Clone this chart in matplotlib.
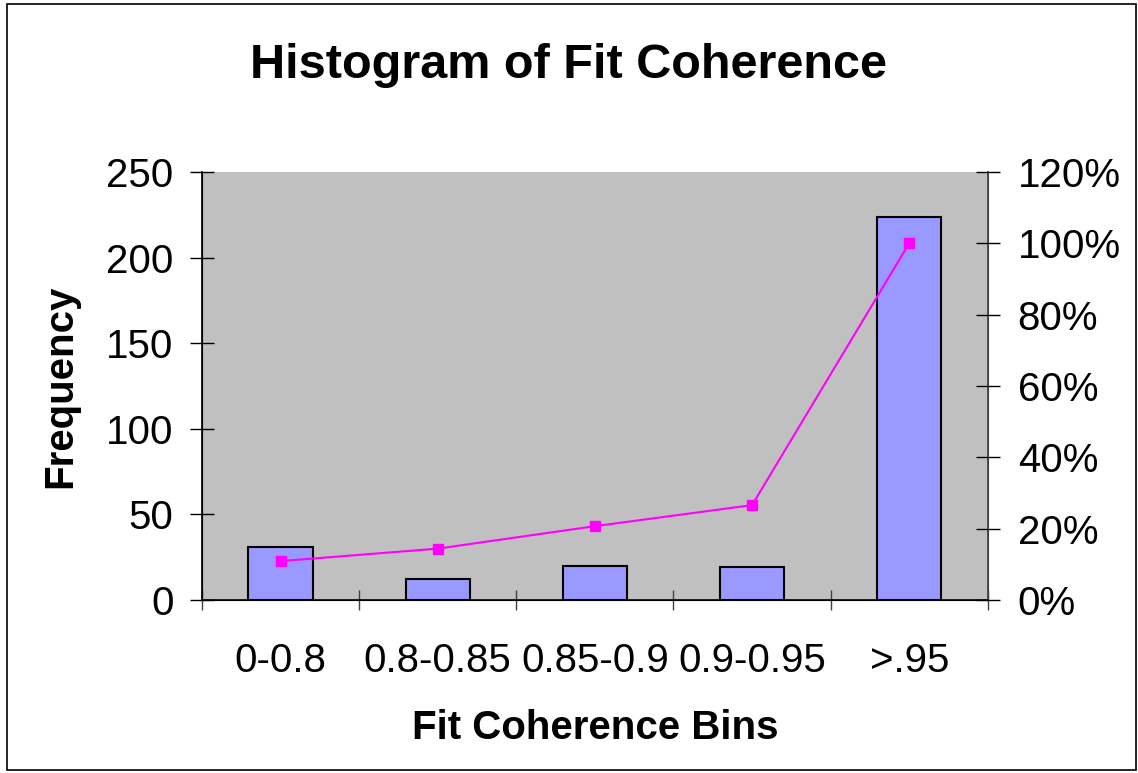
import numpy as np
import matplotlib.pyplot as plt
from matplotlib.patches import Rectangle

plt.rcParams['font.family'] = ['Liberation Sans', 'DejaVu Sans']

bins = ['0-0.8', '0.8-0.85', '0.85-0.9', '0.9-0.95', '>.95']
frequency = [31, 12, 20, 19, 224]
cumulative = [10.9, 14.4, 20.7, 26.6, 100.0]

fig = plt.figure(figsize=(11.38, 7.73), dpi=100)
fig.patches.append(Rectangle((0.006, 0.004), 0.992, 0.991, transform=fig.transFigure,
                             fill=False, edgecolor='black', linewidth=1.2))

ax = fig.add_axes([0.1775, 0.2238, 0.6905, 0.5537])
ax.set_facecolor('#C0C0C0')
x = np.arange(len(bins))
ax.bar(x, frequency, width=0.41, color='#9999FF', edgecolor='black', linewidth=1.5, zorder=2)
ax.set_xlim(-0.5, len(bins) - 0.5)
ax.set_ylim(0, 250)
ax.set_yticks(range(0, 251, 50))
ax.set_xticks(x)
ax.set_xticklabels(bins, fontsize=29)
ax.set_xticks(np.arange(-0.5, len(bins), 1.0), minor=True)
ax.tick_params(axis='x', which='major', length=0, pad=30)
ax.tick_params(axis='x', which='minor', direction='inout', length=14, width=1, color='#404040')
ax.tick_params(axis='y', direction='inout', length=17, width=1, labelsize=29, pad=12)
ax.spines['top'].set_visible(False)
for s in ['left', 'bottom', 'right']:
    ax.spines[s].set_linewidth(1.2)
ax.spines['right'].set_color('#404040')

ax2 = ax.twinx()
ax2.plot(x, cumulative, color='#FF00FF', linewidth=1.5, marker='s', markersize=7.5, zorder=3)
ax2.set_ylim(0, 120)
ax2.set_yticks(range(0, 121, 20))
ax2.set_yticklabels([f'{v}%' for v in range(0, 121, 20)])
ax2.tick_params(axis='y', direction='inout', length=17, width=1, labelsize=29, pad=13)
ax2.spines['top'].set_visible(False)
ax2.spines['right'].set_color('#404040')

ax.set_ylabel('Frequency', fontsize=29, fontweight='bold', labelpad=19)
ax.set_xlabel('Fit Coherence Bins', fontsize=29, fontweight='bold', labelpad=21)
fig.text(0.5, 0.915, 'Histogram of Fit Coherence', ha='center', va='center',
         fontsize=35, fontweight='bold')

fig.savefig('out.png', dpi=100)
